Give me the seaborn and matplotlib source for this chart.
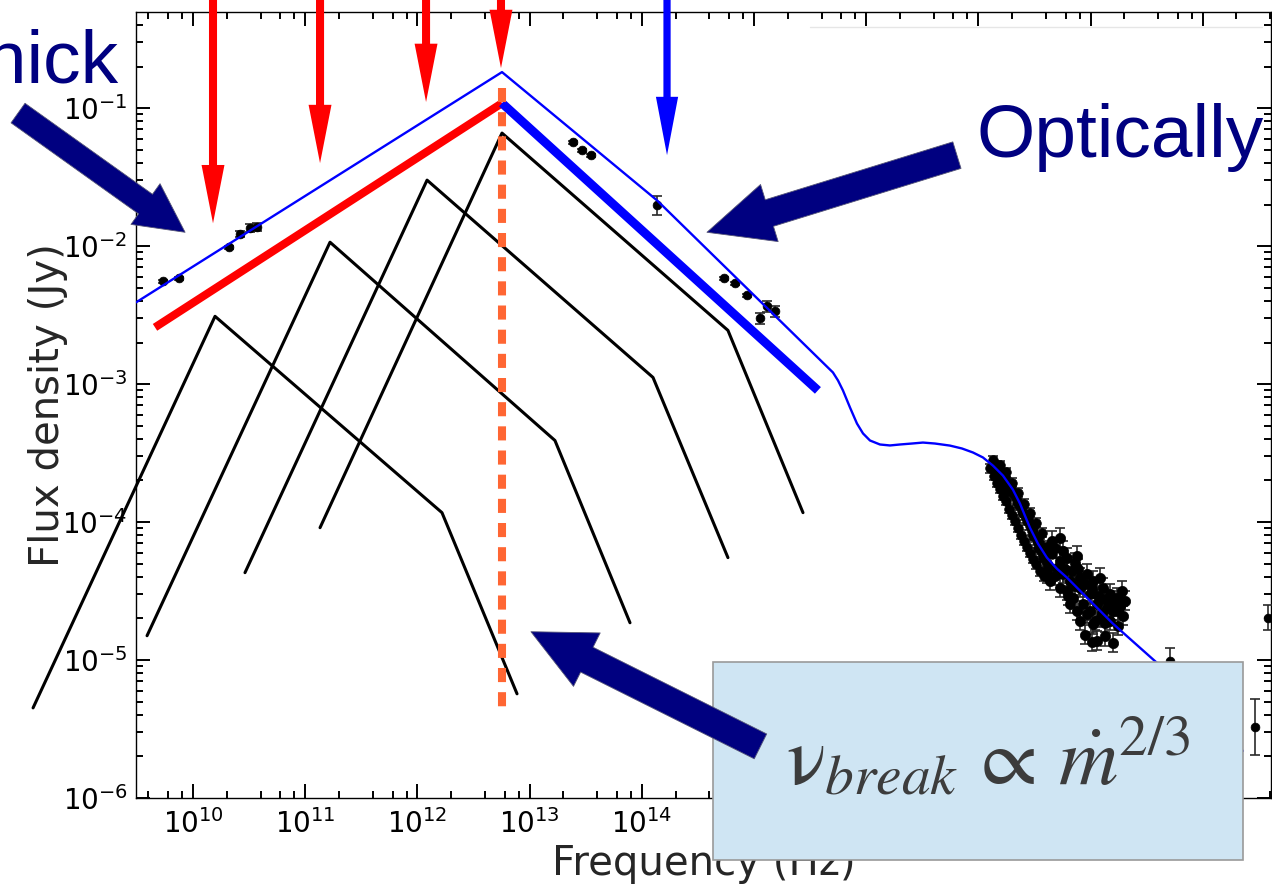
import numpy as np
import matplotlib
matplotlib.use("Agg")
import matplotlib.pyplot as plt
from matplotlib.patches import Rectangle
from matplotlib.ticker import LogLocator, NullFormatter
import seaborn as sns

# all values are log10(frequency / Hz) and log10(flux density / Jy)

# single-zone broken power laws (black)
zone1_logf = [8.574, 10.196, 12.219, 12.888]
zone1_logF = [-5.347, -2.509, -3.932, -5.245]
zone2_logf = [9.590, 11.221, 13.226, 13.895]
zone2_logF = [-4.824, -1.972, -3.409, -4.730]
zone3_logf = [10.463, 12.086, 14.100, 14.768]
zone3_logF = [-4.367, -1.522, -2.952, -4.258]
zone4_logf = [11.132, 12.754, 14.768, 15.437]
zone4_logF = [-4.041, -1.181, -2.611, -3.932]

# thick / thin jet asymptotes
thick_logf = [9.661, 12.754]
thick_logF = [-2.589, -0.964]
thin_logf = [12.754, 15.570]
thin_logF = [-0.964, -3.046]

# break frequency
nu_break_log = 12.754
break_span_logF = [-0.855, -5.354]

# total model (thin blue)
model_logf = [9.492, 12.754, 14.135, 15.704, 15.749, 15.793, 15.856, 15.918,
              15.972, 16.034, 16.123, 16.212, 16.301, 16.408, 16.506, 16.613,
              16.747, 16.854, 16.952, 17.041, 17.130, 17.219, 17.308, 17.371,
              17.415, 17.460, 17.531, 17.611, 17.700, 17.790, 17.995, 18.200,
              18.601, 19.358]
model_logF = [-2.408, -0.739, -1.668, -2.916, -2.974, -3.046, -3.170, -3.286,
              -3.358, -3.409, -3.438, -3.445, -3.438, -3.431, -3.424, -3.431,
              -3.446, -3.467, -3.496, -3.532, -3.591, -3.663, -3.765, -3.866,
              -3.953, -4.041, -4.156, -4.258, -4.338, -4.403, -4.570, -4.737,
              -5.027, -5.659]

# observed points
radio_logf = [9.733, 9.875, 10.321, 10.419, 10.508, 10.570]
radio_logF = [-2.255, -2.234, -2.009, -1.914, -1.871, -1.864]
radio_err = [0.01, 0.01, 0.01, 0.02, 0.03, 0.03]

submm_logf = [13.387, 13.467, 13.547, 14.135]
submm_logF = [-1.247, -1.305, -1.341, -1.704]
submm_err = [0.01, 0.01, 0.01, 0.07]

ir_logf = [14.733, 14.831, 14.938, 15.053, 15.116, 15.187]
ir_logF = [-2.234, -2.270, -2.357, -2.524, -2.437, -2.473]
ir_err = [0.01, 0.01, 0.01, 0.04, 0.04, 0.04]

xband_logf = [17.130, 17.166, 17.175, 17.210, 17.237, 17.255, 17.281, 17.299,
              17.326, 17.344, 17.371, 17.388, 17.415, 17.433, 17.460, 17.477,
              17.486, 17.522, 17.531, 17.567, 17.576, 17.611, 17.620,
              17.148, 17.219, 17.308, 17.397, 17.486, 17.549, 17.192, 17.264,
              17.353, 17.442, 17.531, 17.593,
              17.103, 17.139, 17.166, 17.192, 17.219, 17.246, 17.273, 17.299,
              17.326, 17.353, 17.380, 17.406, 17.433, 17.460, 17.486, 17.513,
              17.549, 17.585, 17.192, 17.246, 17.299, 17.353, 17.406, 17.460,
              17.513, 17.567, 17.620, 17.656]
xband_logF = [-3.554, -3.590, -3.627, -3.648, -3.677, -3.714, -3.735, -3.772,
              -3.808, -3.844, -3.881, -3.917, -3.953, -3.989, -4.026, -4.062,
              -4.098, -4.135, -4.185, -4.222, -4.258, -4.294, -4.330,
              -3.605, -3.699, -3.793, -3.931, -4.040, -4.156, -3.677, -3.772,
              -3.866, -3.975, -4.113, -4.229,
              -3.612, -3.663, -3.714, -3.757, -3.808, -3.844, -3.902, -3.946,
              -3.989, -4.040, -4.091, -4.135, -4.178, -4.222, -4.265, -4.302,
              -4.353, -4.389, -3.590, -3.641, -3.714, -3.786, -3.866, -3.931,
              -4.004, -4.077, -4.171, -4.229]
xtail_logf = [17.727, 17.656, 17.682, 17.754, 17.789, 17.861, 17.878, 17.700,
              17.754, 17.816, 17.905, 17.968, 18.021, 18.084, 18.111, 18.173,
              18.200, 18.236, 17.905, 17.994, 17.843, 17.816, 17.932, 18.057,
              18.146, 18.200, 17.968, 18.084, 18.173, 17.950, 18.057, 18.128,
              18.200, 17.878, 18.021, 17.611, 17.638, 17.727, 17.789, 18.263,
              18.281,
              17.682, 17.727, 17.771, 17.834, 17.888, 17.950, 18.012, 18.066,
              18.120, 18.173, 18.244, 18.289, 17.861, 17.799, 17.994, 18.102,
              18.039, 17.905, 18.128, 18.244, 18.012, 18.307]
xtail_logF = [-4.113, -4.135, -4.185, -4.207, -4.258, -4.294, -4.243, -4.330,
              -4.374, -4.425, -4.403, -4.374, -4.425, -4.403, -4.476, -4.519,
              -4.570, -4.548, -4.476, -4.519, -4.548, -4.592, -4.592, -4.592,
              -4.621, -4.643, -4.665, -4.694, -4.716, -4.817, -4.861, -4.825,
              -4.875, -4.643, -4.738, -4.374, -4.425, -4.476, -4.498, -4.606,
              -4.497,
              -4.389, -4.280, -4.338, -4.353, -4.338, -4.447, -4.483, -4.534,
              -4.556, -4.607, -4.643, -4.679, -4.461, -4.534, -4.643, -4.658,
              -4.716, -4.716, -4.730, -4.752, -4.868, -4.570]

hard_logf = [18.708, 19.465, 19.581]
hard_logF = [-5.006, -5.485, -4.694]
hard_err = [0.09, 0.2, 0.09]

# arrows marking the peaks of the zones (red) and the model kink (blue)
peak_arrow_logf = [10.178, 11.132, 12.077, 12.745]
peak_arrow_logF = [-1.835, -1.399, -0.956, -0.710]
kink_arrow_logf = 14.225
kink_arrow_logF = -1.341

sns.set_style("ticks")
plt.rcParams['font.family'] = ['DejaVu Sans']
plt.rcParams['axes.unicode_minus'] = False
plt.rcParams['mathtext.fontset'] = 'dejavusans'

fig = plt.figure(figsize=(12.72, 8.84), dpi=100)
ax = fig.add_axes([0.1069, 0.0973, 0.8923, 0.8891])
ax.set_xscale('log')
ax.set_yscale('log')


def lin(v):
    return 10 ** np.asarray(v, dtype=float)


for lf, lF in [(zone1_logf, zone1_logF), (zone2_logf, zone2_logF),
               (zone3_logf, zone3_logF), (zone4_logf, zone4_logF)]:
    sns.lineplot(x=lin(lf), y=lin(lF), ax=ax, color='black', lw=2.2,
                 sort=False, estimator=None, clip_on=False, zorder=2)

sns.lineplot(x=lin(thick_logf), y=lin(thick_logF), ax=ax, color='#ff0000',
             lw=5.8, sort=False, estimator=None, zorder=3,
             solid_capstyle='butt')
sns.lineplot(x=lin(thin_logf), y=lin(thin_logF), ax=ax, color='#0000ff',
             lw=6.4, sort=False, estimator=None, zorder=3,
             solid_capstyle='butt')
sns.lineplot(x=lin(model_logf), y=lin(model_logF), ax=ax, color='#0000ff',
             lw=1.7, sort=False, estimator=None, zorder=8)
sns.lineplot(x=lin([nu_break_log, nu_break_log]), y=lin(break_span_logF),
             ax=ax, color='#ff6633', lw=5.8, sort=False, estimator=None,
             linestyle=(0, (1.75, 1.25)), zorder=5, solid_capstyle='butt')


def points(lf, lF, err, size=40):
    x = lin(lf)
    y = lin(lF)
    e = np.asarray(err, dtype=float)
    lo = y - y * 10 ** (-e)
    hi = y * 10 ** e - y
    ax.errorbar(x, y, yerr=[lo, hi], fmt='none', ecolor='#2a2a2a',
                elinewidth=1.2, capsize=3.5, capthick=1.2, zorder=6)
    sns.scatterplot(x=x, y=y, ax=ax, color='black', s=size, edgecolor='black',
                    linewidth=0.5, zorder=7, legend=False)


points(radio_logf, radio_logF, radio_err)
points(submm_logf, submm_logF, submm_err)
points(ir_logf, ir_logF, ir_err)
points(xband_logf, xband_logF, [0.035] * len(xband_logf), size=48)
points(xtail_logf, xtail_logF, [0.07] * len(xtail_logf), size=55)
points(hard_logf, hard_logF, hard_err)

ax.set_xlim(3.1e9, 4.06e19)
ax.set_ylim(1e-6, 0.497)

ax.xaxis.set_major_locator(LogLocator(base=10, numticks=30))
ax.xaxis.set_minor_locator(LogLocator(base=10, subs=(2, 4, 6, 8), numticks=40))
ax.xaxis.set_minor_formatter(NullFormatter())
ax.yaxis.set_major_locator(LogLocator(base=10, numticks=30))
ax.yaxis.set_minor_locator(LogLocator(base=10, subs=np.arange(2, 10), numticks=40))
ax.yaxis.set_minor_formatter(NullFormatter())
ax.tick_params(which='both', direction='in', top=True, right=True,
               width=1.4, colors='black', labelsize=20)
ax.tick_params(which='major', length=10)
ax.tick_params(which='minor', length=5)
ax.tick_params(axis='x', pad=8)
ax.tick_params(axis='y', pad=6)
for sp in ax.spines.values():
    sp.set_linewidth(1.0)
    sp.set_color('black')

ax.set_xlabel('Frequency (Hz)', fontsize=29)
ax.set_ylabel('Flux density (Jy)', fontsize=29)
ax.xaxis.set_label_coords(0.5, -0.058)
ax.yaxis.set_label_coords(-0.060, 0.5)

# faint frame edge in the top right
ax.plot([0.594, 0.992], [0.981, 0.981], transform=ax.transAxes,
        color='#e6e6e6', lw=1, zorder=1)

# red / blue markers
for f, F in zip(peak_arrow_logf, peak_arrow_logF):
    ax.annotate('', xy=(lin(f), lin(F)), xytext=(lin(f), lin(-0.1)),
                arrowprops=dict(width=5.8, headwidth=16.5, headlength=42,
                                facecolor='#ff0000', edgecolor='none'),
                annotation_clip=False, zorder=9)
ax.annotate('', xy=(lin(kink_arrow_logf), lin(kink_arrow_logF)),
            xytext=(lin(kink_arrow_logf), lin(-0.1)),
            arrowprops=dict(width=5.2, headwidth=16, headlength=42,
                            facecolor='#0000ff', edgecolor='none'),
            annotation_clip=False, zorder=9)

# big navy pointers
navy = '#000080'
ax.annotate('', xy=(lin(9.929), lin(-1.900)), xytext=(lin(8.440), lin(-1.036)),
            arrowprops=dict(width=17.3, headwidth=36, headlength=35,
                            facecolor=navy, edgecolor='#555577', lw=0.6),
            annotation_clip=False, zorder=9)
ax.annotate('', xy=(lin(14.581), lin(-1.900)), xytext=(lin(16.809), lin(-1.341)),
            arrowprops=dict(width=20, headwidth=43, headlength=47,
                            facecolor=navy, edgecolor='#555577', lw=0.6),
            annotation_clip=False, zorder=9)

# formula box
box = Rectangle((713 / 1272, 24 / 884), 530 / 1272, 198 / 884,
                transform=fig.transFigure, facecolor='#cfe5f3',
                edgecolor='#9a9a9a', lw=1.2, clip_on=False, zorder=10)
ax.add_patch(box)
ax.text(0.777, 0.112, r'$\mathrm{\nu}_{break}\,\propto\,\dot{m}^{2/3}$',
        transform=fig.transFigure, fontsize=59, color='#3c3c3c',
        ha='center', va='baseline', math_fontfamily='stix', zorder=12)
ax.annotate('', xy=(lin(13.012), lin(-4.795)), xytext=(lin(15.058), lin(-5.626)),
            arrowprops=dict(width=20, headwidth=43, headlength=45,
                            facecolor=navy, edgecolor='#555577', lw=0.6),
            annotation_clip=False, zorder=11)

fig.text(0.768, 0.8224, 'Optically', fontsize=54, color=navy,
         family=['Liberation Sans', 'DejaVu Sans'], ha='left', va='baseline')
fig.text(119 / 1272, 0.9072, 'thick', fontsize=54, color=navy,
         family=['Liberation Sans', 'DejaVu Sans'], ha='right', va='baseline')

fig.savefig('out.png', dpi=100)
